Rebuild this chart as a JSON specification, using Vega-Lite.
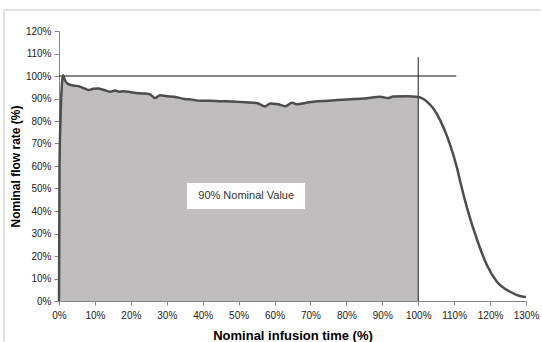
{
  "$schema": "https://vega.github.io/schema/vega-lite/v6.json",
  "width": 467,
  "height": 270,
  "autosize": {"type": "none"},
  "padding": {"left": 59, "top": 31, "right": 16, "bottom": 41},
  "background": "white",
  "config": {
    "view": {"stroke": null},
    "font": "Liberation Sans",
    "axis": {
      "grid": false,
      "domainColor": "#868686",
      "tickColor": "#868686",
      "labelColor": "#222222",
      "labelFont": "Liberation Sans",
      "labelFontSize": 10,
      "titleFont": "Liberation Sans",
      "titleFontSize": 12,
      "titleFontWeight": "bold",
      "titleColor": "#000000",
      "tickSize": 4
    }
  },
  "datasets": {
    "curve": [
      {"t": 0, "r": 0}, {"t": 0.15, "r": 60}, {"t": 0.4, "r": 80}, {"t": 0.8, "r": 96},
      {"t": 1.1, "r": 100.3}, {"t": 1.7, "r": 98}, {"t": 2.6, "r": 96.4}, {"t": 4, "r": 95.8},
      {"t": 5.8, "r": 95.3}, {"t": 7, "r": 94.5}, {"t": 8.2, "r": 93.8}, {"t": 9.5, "r": 94.3},
      {"t": 10.9, "r": 94.5}, {"t": 12.5, "r": 93.8}, {"t": 14.2, "r": 93.0}, {"t": 15.6, "r": 93.6},
      {"t": 16.8, "r": 93.0}, {"t": 17.8, "r": 93.2}, {"t": 20, "r": 92.8}, {"t": 22.6, "r": 92.3},
      {"t": 25.3, "r": 91.9}, {"t": 26.7, "r": 90.2}, {"t": 28.1, "r": 91.4}, {"t": 30, "r": 91.0},
      {"t": 32, "r": 90.8}, {"t": 35, "r": 89.8}, {"t": 37, "r": 89.5}, {"t": 39.3, "r": 89.0},
      {"t": 42, "r": 89.0}, {"t": 45, "r": 88.8}, {"t": 48, "r": 88.7}, {"t": 50, "r": 88.5},
      {"t": 52, "r": 88.3}, {"t": 55, "r": 88.0}, {"t": 57.4, "r": 86.5}, {"t": 58.8, "r": 87.8},
      {"t": 61, "r": 87.4}, {"t": 63, "r": 86.6}, {"t": 64.9, "r": 88.1}, {"t": 66.3, "r": 87.4},
      {"t": 68.5, "r": 88.0}, {"t": 70.8, "r": 88.6}, {"t": 75, "r": 89.0}, {"t": 80.2, "r": 89.6},
      {"t": 85, "r": 90.0}, {"t": 89.4, "r": 90.8}, {"t": 91.6, "r": 90.2}, {"t": 93, "r": 90.9},
      {"t": 97, "r": 91.0}, {"t": 100, "r": 90.7}, {"t": 101.2, "r": 90.0}, {"t": 102.4, "r": 88.6},
      {"t": 104.2, "r": 85.6}, {"t": 106.1, "r": 80.4}, {"t": 108.4, "r": 71.6}, {"t": 110.8, "r": 59.1},
      {"t": 111.7, "r": 53}, {"t": 113.6, "r": 41.3}, {"t": 116.4, "r": 27.1}, {"t": 119.1, "r": 16},
      {"t": 121.9, "r": 8.6}, {"t": 125.6, "r": 4.1}, {"t": 128, "r": 2.3}, {"t": 129.3, "r": 1.9},
      {"t": 130, "r": 1.8}
    ]
  },
  "encoding": {
    "x": {"type": "quantitative", "scale": {"domain": [0, 130], "nice": false},
      "axis": {"title": "Nominal infusion time (%)", "titleFontSize": 13, "values": [0,10,20,30,40,50,60,70,80,90,100,110,120,130], "labelOverlap": false, "labelFlush": false, "labelBound": false, "labelExpr": "datum.value + '%'", "labelPadding": 5, "titlePadding": 9}},
    "y": {"type": "quantitative", "scale": {"domain": [0, 120], "nice": false},
      "axis": {"title": "Nominal flow rate (%)", "values": [0,10,20,30,40,50,60,70,80,90,100,110,120], "labelOverlap": false, "labelFlush": false, "labelBound": false, "labelExpr": "datum.value + '%'", "tickSize": 5, "labelPadding": 3, "titlePadding": 3}}
  },
  "layer": [
    {
      "data": {"values": [
        {"x1": -15.3, "x2": 134, "y1": 129.3, "y2": 129.3},
        {"x1": -15.3, "x2": -15.3, "y1": -18, "y2": 129.3}
      ]},
      "mark": {"type": "rule", "stroke": "#c4c4c4", "strokeWidth": 1, "clip": false},
      "encoding": {
        "x": {"field": "x1"},
        "x2": {"field": "x2"},
        "y": {"field": "y1"},
        "y2": {"field": "y2"}
      }
    },
    {
      "data": {"name": "curve"},
      "transform": [{"filter": "datum.t <= 100"}],
      "mark": {"type": "area", "color": "#bfbdbe", "interpolate": "linear"},
      "encoding": {
        "x": {"field": "t"},
        "y": {"field": "r"}
      }
    },
    {
      "data": {"values": [{"x1": 0, "x2": 110.6, "y": 100}]},
      "mark": {"type": "rule", "color": "#111111", "strokeWidth": 1},
      "encoding": {
        "x": {"field": "x1"},
        "x2": {"field": "x2"},
        "y": {"field": "y"}
      }
    },
    {
      "data": {"values": [{"x": 100, "y1": 0, "y2": 108.4}]},
      "mark": {"type": "rule", "color": "#222222", "strokeWidth": 1},
      "encoding": {
        "x": {"field": "x"},
        "y": {"field": "y1"},
        "y2": {"field": "y2"}
      }
    },
    {
      "data": {"name": "curve"},
      "mark": {"type": "line", "color": "#4d4d4d", "strokeWidth": 2.5, "interpolate": "monotone"},
      "encoding": {
        "x": {"field": "t"},
        "y": {"field": "r"}
      }
    },
    {
      "data": {"values": [{"x1": 35.6, "x2": 68.5, "y1": 40.9, "y2": 52.4}]},
      "mark": {"type": "rect", "color": "white"},
      "encoding": {
        "x": {"field": "x1"},
        "x2": {"field": "x2"},
        "y": {"field": "y1"},
        "y2": {"field": "y2"}
      }
    },
    {
      "data": {"values": [{"x": 52.1, "y": 46.7, "label": "90% Nominal Value"}]},
      "mark": {"type": "text", "font": "Liberation Sans", "fontSize": 11, "color": "#333333", "align": "center", "baseline": "middle"},
      "encoding": {
        "x": {"field": "x"},
        "y": {"field": "y"},
        "text": {"field": "label"}
      }
    }
  ]
}
